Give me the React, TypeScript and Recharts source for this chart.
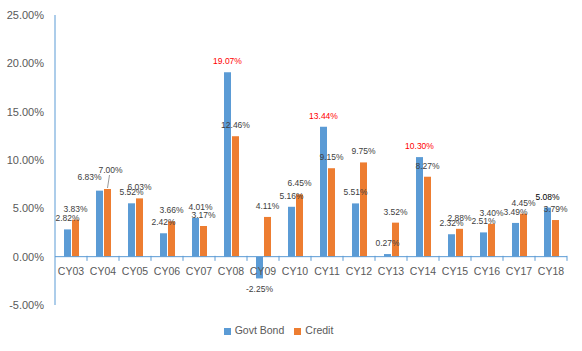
import React from "react";
import { Bar, BarChart, LabelList, Legend, ReferenceLine, XAxis, YAxis } from "recharts";

const years = ["CY03", "CY04", "CY05", "CY06", "CY07", "CY08", "CY09", "CY10", "CY11", "CY12", "CY13", "CY14", "CY15", "CY16", "CY17", "CY18"];
const govtBond = [2.82, 6.83, 5.52, 2.42, 4.01, 19.07, -2.25, 5.16, 13.44, 5.51, 0.27, 10.3, 2.32, 2.51, 3.49, 5.08];
const credit = [3.83, 7.0, 6.03, 3.66, 3.17, 12.46, 4.11, 6.45, 9.15, 9.75, 3.52, 8.27, 2.88, 3.4, 4.45, 3.79];
const yTicks = [-5, 0, 5, 10, 15, 20, 25];
const seriesOrder = ["Govt Bond", "Credit"];

// labels Excel highlighted
const redLabels = ["CY08", "CY11", "CY14"];
const darkLabels = ["CY18"];

// labels that were dragged by hand in the original (dx, dy in px)
const govtNudge: Record<string, [number, number]> = { CY04: [-10, -3], CY07: [5, 0] };
const creditNudge: Record<string, [number, number]> = { CY04: [3, -8] };

const data = years.map((year, i) => ({ year, govt: govtBond[i], credit: credit[i] }));

const FONT = "'Liberation Sans', Arial, sans-serif";
const BLUE = "#5B9BD5";
const ORANGE = "#ED7D31";

// plot area layout (chart is fixed size)
const PLOT_TOP = 15;
const PLOT_BOTTOM = 304;
const ZERO_Y = PLOT_BOTTOM - ((PLOT_BOTTOM - PLOT_TOP) * 5) / 30;
const BAND = 32;

const CategoryTick = (props: any) => {
  const { x, payload } = props;
  return (
    <g>
      <line x1={x + BAND / 2} x2={x + BAND / 2} y1={ZERO_Y} y2={ZERO_Y + 5} stroke={BLUE} />
      <text x={x} y={ZERO_Y + 19} textAnchor="middle" fontSize={10.5} fontFamily={FONT} fill="#595959">
        {payload.value}
      </text>
    </g>
  );
};

const makeLabel = (isGovt: boolean) => (props: any) => {
  const { x, y, width, height, value, index } = props;
  const top = Math.min(y, y + height);
  const bottom = Math.max(y, y + height);
  const year = years[index];
  let fill = "#404040";
  if (isGovt && redLabels.includes(year)) fill = "#FF0000";
  if (isGovt && darkLabels.includes(year)) fill = "#000000";
  const nudge = (isGovt ? govtNudge : creditNudge)[year] || [0, 0];
  const cx = x + width / 2 + nudge[0];
  const ty = (value < 0 ? bottom + 14 : top - 8) + nudge[1];
  const leader = !isGovt && nudge[1] < -4;
  return (
    <g>
      {leader && <line x1={cx - 1} y1={ty + 2} x2={cx - 3} y2={top - 1} stroke="#7f7f7f" strokeWidth={0.8} />}
      <text x={cx} y={ty} textAnchor="middle" fontSize={8.5} fontFamily={FONT} fill={fill}>
        {value.toFixed(2)}%
      </text>
    </g>
  );
};

export default function App() {
  return (
    <div style={{ position: "absolute", left: 0, top: 0, background: "#fff" }}>
      <BarChart
        width={582}
        height={351}
        data={data}
        margin={{ top: PLOT_TOP, right: 15, left: 0, bottom: 15 }}
        barSize={7}
        barGap={1}
      >
        <XAxis dataKey="year" axisLine={false} tickLine={false} height={19} tick={<CategoryTick />} interval={0} />
        <YAxis
          width={55}
          domain={[-5, 25]}
          ticks={yTicks}
          tickFormatter={(v: number) => `${v.toFixed(2)}%`}
          tick={{ fill: "#595959", fontSize: 11, fontFamily: FONT }}
          tickLine={false}
          tickMargin={5}
          axisLine={{ stroke: BLUE }}
        />
        <ReferenceLine y={0} stroke={BLUE} />
        <Legend
          verticalAlign="bottom"
          iconType="square"
          iconSize={7}
          itemSorter={(item: any) => seriesOrder.indexOf(item.value)}
          wrapperStyle={{ fontSize: 10.5, fontFamily: FONT, color: "#595959" }}
          formatter={(v: string) => <span style={{ color: "#595959" }}>{v}</span>}
        />
        <Bar dataKey="govt" name="Govt Bond" fill={BLUE} isAnimationActive={false}>
          <LabelList dataKey="govt" content={makeLabel(true)} />
        </Bar>
        <Bar dataKey="credit" name="Credit" fill={ORANGE} isAnimationActive={false}>
          <LabelList dataKey="credit" content={makeLabel(false)} />
        </Bar>
      </BarChart>
    </div>
  );
}
